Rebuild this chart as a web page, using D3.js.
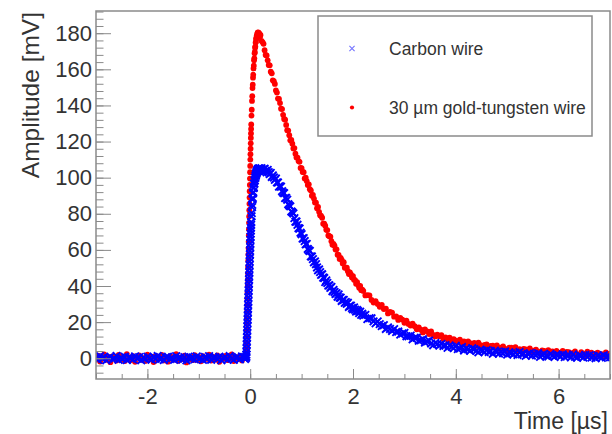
<!DOCTYPE html>
<html>
<head>
<meta charset="utf-8">
<script src="https://cdn.jsdelivr.net/npm/d3@7/dist/d3.min.js"></script>
<style>
  html, body { margin: 0; padding: 0; background: #ffffff; }
  svg { display: block; }
</style>
</head>
<body>
<svg id="chart" width="612" height="434"></svg>
<script>
// Sample times of the recorded pulses (µs): baseline, rising edge, peak, fast tail, slow tail
const timeUs = [
  -3.00,-2.96,-2.92,-2.88,-2.84,-2.80,-2.76,-2.72,-2.68,-2.64,
  -2.60,-2.56,-2.52,-2.48,-2.44,-2.40,-2.36,-2.32,-2.28,-2.24,
  -2.20,-2.16,-2.12,-2.08,-2.04,-2.00,-1.96,-1.92,-1.88,-1.84,
  -1.80,-1.76,-1.72,-1.68,-1.64,-1.60,-1.56,-1.52,-1.48,-1.44,
  -1.40,-1.36,-1.32,-1.28,-1.24,-1.20,-1.16,-1.12,-1.08,-1.04,
  -1.00,-0.96,-0.92,-0.88,-0.84,-0.80,-0.76,-0.72,-0.68,-0.64,
  -0.60,-0.56,-0.52,-0.48,-0.44,-0.40,-0.36,-0.32,-0.28,-0.24,
  -0.20,-0.16,-0.12,-0.10,
  -0.0800,-0.0775,-0.0750,-0.0725,-0.0700,-0.0675,-0.0650,-0.0625,-0.0600,-0.0575,
  -0.0550,-0.0525,-0.0500,-0.0475,-0.0450,-0.0425,-0.0400,-0.0375,-0.0350,-0.0325,
  -0.0300,-0.0275,-0.0250,-0.0225,-0.0200,-0.0175,-0.0150,-0.0125,-0.0100,-0.0075,
  -0.0050,-0.0025,0.0000,0.0025,0.0050,0.0075,0.0100,0.0125,0.0150,0.0175,
  0.0200,
  0.025,0.030,0.035,0.040,0.045,0.050,0.055,0.060,0.065,0.070,
  0.075,0.080,0.085,0.090,0.095,0.100,0.105,0.110,0.115,0.120,
  0.125,0.130,0.135,0.140,0.145,0.150,0.155,0.160,0.165,0.170,
  0.175,0.180,0.185,0.190,0.195,
  0.20,0.22,0.24,0.26,0.28,0.30,0.32,0.34,0.36,0.38,
  0.40,0.42,0.44,0.46,0.48,0.50,0.52,0.54,0.56,0.58,
  0.60,0.62,0.64,0.66,0.68,0.70,0.72,0.74,0.76,0.78,
  0.80,0.82,0.84,0.86,0.88,0.90,0.92,0.94,0.96,0.98,
  1.00,1.02,1.04,1.06,1.08,1.10,1.12,1.14,1.16,1.18,
  1.20,1.22,1.24,1.26,1.28,1.30,1.32,1.34,1.36,1.38,
  1.40,1.42,1.44,1.46,1.48,1.50,1.52,1.54,1.56,1.58,
  1.60,1.62,1.64,1.66,1.68,1.70,1.72,1.74,1.76,1.78,
  1.80,1.82,1.84,1.86,1.88,1.90,1.92,1.94,1.96,1.98,
  2.00,2.02,2.04,2.06,2.08,2.10,2.12,2.14,2.16,2.18,
  2.20,2.24,2.28,2.32,2.36,2.40,2.44,2.48,2.52,2.56,
  2.60,2.64,2.68,2.72,2.76,2.80,2.84,2.88,2.92,2.96,
  3.00,3.04,3.08,3.12,3.16,3.20,3.24,3.28,3.32,3.36,
  3.40,3.44,3.48,3.52,3.56,3.60,3.64,3.68,3.72,3.76,
  3.80,3.84,3.88,3.92,3.96,4.00,4.04,4.08,4.12,4.16,
  4.20,4.24,4.28,4.32,4.36,4.40,4.44,4.48,4.52,4.56,
  4.60,4.64,4.68,4.72,4.76,4.80,4.84,4.88,4.92,4.96,
  5.00,5.04,5.08,5.12,5.16,5.20,5.24,5.28,5.32,5.36,
  5.40,5.44,5.48,5.52,5.56,5.60,5.64,5.68,5.72,5.76,
  5.80,5.84,5.88,5.92,5.96,6.00,6.04,6.08,6.12,6.16,
  6.20,6.24,6.28,6.32,6.36,6.40,6.44,6.48,6.52,6.56,
  6.60,6.64,6.68,6.72,6.76,6.80,6.84,6.88,6.92,6.96,
  7.00
];

// Carbon wire pulse amplitude (mV)
const carbonMv = [
  0.4,-0.8,1.1,-0.3,0.6,-1.2,0.2,0.9,-0.6,-0.1,
  1.3,-0.9,0.3,-0.4,0.8,-1.0,0.5,0.1,-0.7,1.0,
  -0.2,0.6,-1.1,0.4,-0.5,0.9,0.0,-0.8,0.7,-0.3,
  1.2,-0.6,0.2,-1.0,0.5,0.8,-0.4,0.1,-0.9,1.1,
  -0.2,0.3,-0.7,0.6,-1.2,0.9,-0.1,0.4,-0.6,1.0,
  -0.3,0.2,-0.9,0.7,-0.4,1.1,-0.8,0.3,0.5,-0.5,
  0.8,-1.1,0.1,0.6,-0.7,1.2,-0.2,-0.9,0.4,0.7,
  -0.6,1.0,0.2,-0.4,
  0.3,1.0,2.0,3.5,5.5,7.5,9.5,11.5,13.5,15.5,
  17.5,19.5,21.5,23.5,25.5,27.5,29.5,31.5,33.5,35.5,
  37.5,39.5,41.5,43.5,45.5,47.5,49.5,51.5,53.5,55.5,
  57.5,59.5,61.5,63.5,65.5,67.3,69.0,70.7,72.3,73.9,
  75.4,
  78.6,80.4,83.7,85.0,87.9,88.8,91.4,92.0,94.2,94.6,
  96.5,96.8,98.4,98.5,100.0,99.9,101.3,101.1,102.4,102.1,
  103.4,102.8,104.1,103.5,104.6,103.7,104.9,104.0,105.0,104.2,
  104.9,104.1,105.1,104.3,104.8,
  104.1,105.2,103.5,104.6,105.0,103.8,103.0,104.3,103.0,102.0,
  102.6,100.4,101.2,100.1,98.8,99.5,97.4,97.3,95.1,95.2,
  95.0,92.5,91.7,91.4,88.7,88.8,87.8,85.3,84.6,84.1,
  81.3,80.8,80.2,77.6,75.6,75.7,73.9,72.0,71.8,69.5,
  68.7,66.3,66.5,64.9,63.1,63.3,60.5,59.8,59.4,56.4,
  56.3,54.9,53.1,53.6,52.1,50.3,48.7,49.2,47.7,46.2,
  46.5,44.7,44.4,42.2,43.1,41.7,40.2,40.4,39.0,39.5,
  37.1,37.8,36.7,35.6,36.0,34.1,35.3,33.6,33.5,31.7,
  32.3,32.3,30.7,31.1,30.1,30.7,28.4,29.1,29.1,27.8,
  27.1,28.1,26.9,25.8,26.7,26.1,25.0,25.8,24.0,24.6,
  23.6,24.0,21.7,22.2,22.1,20.4,19.3,20.4,18.9,17.8,
  18.3,16.2,17.1,16.2,15.1,16.1,14.5,14.8,13.1,13.7,
  14.0,12.2,12.1,12.5,10.5,11.3,11.3,9.7,10.0,10.5,
  8.7,9.3,9.7,8.2,7.2,8.5,7.8,7.0,7.9,6.8,
  7.2,5.8,7.0,6.4,5.6,6.9,5.1,5.4,6.2,4.3,
  5.4,4.9,4.1,5.5,5.0,4.1,3.3,4.7,4.1,3.4,
  4.5,3.5,4.0,2.5,4.2,3.5,2.6,3.4,2.7,3.8,
  2.0,3.3,2.7,2.2,3.1,1.8,3.4,2.2,2.6,1.3,
  2.3,2.8,1.5,2.4,1.7,2.8,0.8,1.9,2.3,1.4,
  1.0,2.4,1.5,0.7,1.9,1.7,0.9,2.1,0.6,1.5,
  1.7,0.5,2.1,0.8,0.3,1.7,1.2,0.4,1.8,0.8,
  1.7,0.4,1.2,0.0,1.5,0.8,0.2,1.7,0.5,1.2,
  0.5
];

// 30 µm gold-tungsten wire pulse amplitude (mV)
const goldMv = [
  -0.6,1.4,-1.8,0.3,2.1,-0.9,0.7,-2.2,1.0,0.2,
  -1.3,1.9,-0.4,0.8,-1.6,2.3,-0.2,-1.0,1.2,-2.0,
  0.5,1.6,-0.8,0.1,-1.5,2.0,-0.3,0.9,-2.1,1.3,
  -0.6,0.4,1.8,-1.2,0.0,-1.9,1.1,0.6,-0.7,2.2,
  -1.4,0.3,-0.5,1.5,-2.3,0.8,0.2,-1.1,1.7,-0.9,
  0.5,-1.7,1.2,0.0,-0.4,2.0,-1.3,0.7,-0.8,1.6,
  -2.0,0.9,-0.2,1.3,-1.0,0.4,2.1,-1.6,0.6,-0.3,
  1.1,-1.2,0.8,0.1,
  0.5,1.5,3.0,5.5,8.5,12.0,15.5,19.0,22.5,26.0,
  29.5,33.0,36.5,40.0,43.5,47.0,50.5,54.0,57.5,61.0,
  64.5,68.0,71.5,75.0,78.5,82.0,85.5,89.0,92.5,96.0,
  99.5,103.0,106.5,110.0,113.0,116.0,119.0,122.0,124.5,127.0,
  129.5,
  134.4,137.6,142.5,145.1,149.6,151.5,155.4,157.0,160.5,162.0,
  165.0,166.1,168.9,169.6,172.0,172.6,174.8,175.1,177.0,176.9,
  178.4,178.2,179.6,179.1,180.3,179.6,180.5,179.7,180.2,179.3,
  179.9,178.8,179.3,178.2,178.7,
  179.0,175.8,175.1,174.1,170.6,168.0,167.7,165.0,162.4,162.2,
  158.7,157.8,153.9,153.4,151.9,148.3,147.1,143.8,143.6,141.3,
  138.2,138.0,134.8,132.5,132.1,129.2,126.3,126.1,123.5,120.7,
  120.9,118.8,116.2,116.4,113.3,111.2,111.1,109.2,108.8,105.4,
  105.3,103.2,103.0,99.6,100.0,98.1,95.9,96.3,93.6,92.9,
  90.0,90.5,88.4,86.3,86.1,83.1,83.8,81.1,79.2,78.8,
  77.8,74.5,74.5,73.4,71.1,71.0,68.0,67.6,67.3,64.8,
  62.8,63.3,62.3,60.2,60.3,57.3,57.2,55.0,55.6,54.4,
  52.5,53.2,50.1,50.2,50.1,48.2,46.6,47.6,46.4,44.7,
  45.5,43.5,43.3,41.3,42.2,40.5,39.0,40.0,37.7,38.0,
  37.3,34.8,34.9,34.8,32.3,30.8,31.6,30.0,28.5,29.5,
  27.2,27.5,24.8,25.6,25.3,23.0,23.1,21.2,22.3,21.4,
  19.6,20.8,19.0,18.1,19.1,17.7,16.0,17.1,15.8,14.3,
  15.9,14.9,13.4,14.8,12.9,12.1,13.0,12.2,12.8,10.5,
  11.5,10.5,11.4,9.1,10.6,9.8,8.8,10.3,8.8,9.3,
  7.6,9.3,8.4,7.5,8.5,6.8,8.7,7.2,6.5,7.4,
  7.6,5.6,6.8,7.0,5.9,7.1,5.2,5.8,6.6,5.2,
  4.3,5.8,5.9,4.9,6.1,4.2,5.0,3.7,5.2,4.9,
  3.9,5.5,3.3,4.2,4.8,3.6,2.7,4.4,4.0,3.0,
  4.5,3.2,3.8,2.5,4.1,3.1,2.4,4.1,2.5,3.5,
  3.4,1.8,3.0,3.8,2.1,1.7,3.4,2.5,1.7,3.6,
  1.9,3.1,1.0,2.6,3.1,1.4,2.2,0.8,3.3,1.6,
  2.5
];

const xTickValues = [-2, 0, 2, 4, 6];
const yTickValues = [0, 20, 40, 60, 80, 100, 120, 140, 160, 180];
const seriesNames = ["Carbon wire", "30 µm gold-tungsten wire"];
const xTitle = "Time [µs]";
const yTitle = "Amplitude [mV]";

// ---- layout ----
const frame = { left: 96, right: 610, top: 11, bottom: 379 };
const FONT = "'Liberation Sans', Arial, Helvetica, sans-serif";
const TEXT = "#333333";
const LINE = "#8a8a8a";

const svg = d3.select("#chart");
svg.append("rect").attr("width", 612).attr("height", 434).attr("fill", "#ffffff");

const x = d3.scaleLinear().domain([-3, 7]).range([frame.left, frame.right]);
const y = d3.scaleLinear().domain([-11.5, 192.3]).range([frame.bottom, frame.top]);

svg.append("defs").append("clipPath").attr("id", "plotClip")
  .append("rect")
  .attr("x", frame.left).attr("y", frame.top)
  .attr("width", frame.right - frame.left)
  .attr("height", frame.bottom - frame.top);

// ---- data markers ----
const n = Math.min(timeUs.length, carbonMv.length, goldMv.length);
const carbonPts = timeUs.slice(0, n).map((t, i) => ({ t, v: carbonMv[i] }));
const goldPts = timeUs.slice(0, n).map((t, i) => ({ t, v: goldMv[i] }));

const plot = svg.append("g").attr("clip-path", "url(#plotClip)");

plot.append("g").selectAll("circle")
  .data(goldPts)
  .join("circle")
  .attr("cx", d => x(d.t))
  .attr("cy", d => y(d.v))
  .attr("r", 2.9)
  .attr("fill", "#ff0000");

const crossPath = s => `M${-s},${-s}L${s},${s}M${-s},${s}L${s},${-s}`;

plot.append("g").selectAll("path")
  .data(carbonPts)
  .join("path")
  .attr("transform", d => `translate(${x(d.t)},${y(d.v)})`)
  .attr("d", crossPath(3.8))
  .attr("stroke", "#0000ff")
  .attr("stroke-width", 1.9)
  .attr("fill", "none");

// ---- axes ----
const plainNumber = d => String(d);

function styleAxis(g) {
  g.select(".domain").remove();
  g.selectAll(".tick line").attr("stroke", LINE).attr("stroke-width", 1);
  g.selectAll(".tick text")
    .attr("fill", TEXT)
    .style("font-family", FONT)
    .style("font-size", "22px");
}

// x minor ticks
svg.append("g")
  .attr("transform", `translate(0,${frame.bottom})`)
  .call(d3.axisBottom(x).tickValues(d3.range(-3, 7.0001, 0.5)).tickSize(-5).tickFormat(""))
  .call(styleAxis);
// x major ticks + labels
svg.append("g")
  .attr("transform", `translate(0,${frame.bottom})`)
  .call(d3.axisBottom(x).tickValues(xTickValues).tickSize(-10).tickPadding(9).tickFormat(plainNumber))
  .call(styleAxis);

// y minor ticks
svg.append("g")
  .attr("transform", `translate(${frame.left},0)`)
  .call(d3.axisLeft(y).tickValues(d3.range(-8, 192.001, 4)).tickSize(-7.5).tickFormat(""))
  .call(styleAxis);
// y major ticks + labels
svg.append("g")
  .attr("transform", `translate(${frame.left},0)`)
  .call(d3.axisLeft(y).tickValues(yTickValues).tickSize(-15).tickPadding(4).tickFormat(plainNumber))
  .call(styleAxis);

// frame
svg.append("rect")
  .attr("x", frame.left).attr("y", frame.top)
  .attr("width", frame.right - frame.left)
  .attr("height", frame.bottom - frame.top)
  .attr("fill", "none")
  .attr("stroke", LINE)
  .attr("stroke-width", 1.5);

// axis titles
svg.append("text")
  .attr("x", 608).attr("y", 429.3)
  .attr("text-anchor", "end")
  .attr("fill", TEXT)
  .style("font-family", FONT).style("font-size", "23px")
  .text(xTitle);

svg.append("text")
  .attr("transform", "translate(39,12) rotate(-90)")
  .attr("text-anchor", "end")
  .attr("fill", TEXT)
  .style("font-family", FONT).style("font-size", "24.5px")
  .text(yTitle);

// ---- legend ----
const legend = svg.append("g");
legend.append("rect")
  .attr("x", 318).attr("y", 16)
  .attr("width", 274).attr("height", 120)
  .attr("fill", "#ffffff")
  .attr("stroke", LINE)
  .attr("stroke-width", 1.5);

const legendRows = [48.5, 107.5];
legend.append("path")
  .attr("transform", `translate(352,${legendRows[0]})`)
  .attr("d", crossPath(2.6))
  .attr("stroke", "#0000ff")
  .attr("stroke-opacity", 0.55)
  .attr("stroke-width", 1.1)
  .attr("fill", "none");
legend.append("circle")
  .attr("cx", 352).attr("cy", legendRows[1])
  .attr("r", 2.1)
  .attr("fill", "#ff0000");

legend.selectAll("text.entry")
  .data(seriesNames)
  .join("text")
  .attr("class", "entry")
  .attr("x", 389)
  .attr("y", (d, i) => legendRows[i] + 6)
  .attr("fill", TEXT)
  .style("font-family", FONT)
  .style("font-size", "17.5px")
  .text(d => d);
</script>
</body>
</html>
